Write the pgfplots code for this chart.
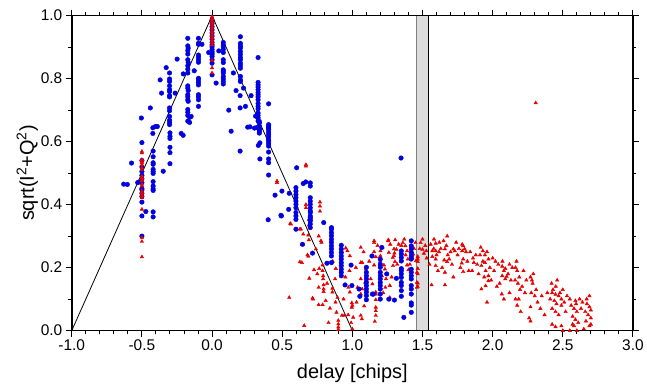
\documentclass[border=0pt]{standalone}
\usepackage{pgfplots}
\pgfplotsset{compat=1.18}
\usepackage{fontspec}
\setmainfont{Liberation Sans}
\definecolor{ptblue}{RGB}{0,0,225}
\definecolor{ptred}{RGB}{230,0,0}
\definecolor{bandgray}{RGB}{220,220,220}

\pgfplotstableread{
x y
-0.63 0.465
-0.604 0.464
-0.574 0.532
-0.52 0.472
-0.53 0.47
-0.504 0.675
-0.5 0.597
-0.5 0.505
-0.5 0.493
-0.5 0.482
-0.5 0.47
-0.5 0.451
-0.5 0.447
-0.5 0.436
-0.5 0.426
-0.5 0.408
-0.5 0.364
-0.5 0.30
-0.5 0.52
-0.5 0.54
-0.472 0.378
-0.44 0.707
-0.422 0.644
-0.403 0.648
-0.422 0.626
-0.42 0.570
-0.42 0.552
-0.42 0.533
-0.42 0.528
-0.42 0.512
-0.42 0.505
-0.42 0.499
-0.42 0.473
-0.42 0.459
-0.42 0.450
-0.42 0.445
-0.42 0.377
-0.42 0.361
-0.39 0.648
-0.37 0.796
-0.36 0.754
-0.348 0.506
-0.327 0.835
-0.303 0.818
-0.303 0.799
-0.303 0.791
-0.303 0.777
-0.303 0.765
-0.303 0.759
-0.303 0.746
-0.303 0.742
-0.303 0.707
-0.303 0.698
-0.303 0.680
-0.303 0.668
-0.303 0.661
-0.303 0.654
-0.30 0.628
-0.30 0.617
-0.30 0.610
-0.30 0.582
-0.30 0.565
-0.30 0.530
-0.263 0.754
-0.249 0.862
-0.22 0.626
-0.206 0.62
-0.205 0.815
-0.173 0.928
-0.173 0.904
-0.17 0.897
-0.173 0.889
-0.173 0.878
-0.173 0.860
-0.17 0.851
-0.173 0.841
-0.173 0.830
-0.173 0.818
-0.173 0.777
-0.173 0.770
-0.17 0.762
-0.173 0.749
-0.173 0.742
-0.173 0.733
-0.17 0.728
-0.173 0.702
-0.173 0.693
-0.173 0.683
-0.16 0.677
-0.173 0.665
-0.16 0.661
-0.149 0.68
-0.127 0.825
-0.097 0.928
-0.097 0.912
-0.097 0.909
-0.097 0.875
-0.097 0.868
-0.097 0.860
-0.097 0.852
-0.097 0.801
-0.097 0.796
-0.097 0.788
-0.097 0.780
-0.097 0.749
-0.097 0.742
-0.097 0.733
-0.097 0.712
-0.072 0.909
-0.024 0.883
0 0.986
0 0.975
0 0.965
0 0.955
0 0.945
0 0.935
0 0.925
0 0.915
0 0.907
0 0.901
0 0.893
0 0.886
0 0.881
0 0.876
0 0.870
0 0.860
0 0.849
0 0.812
0.029 0.786
0.048 0.888
0.08 0.915
0.08 0.907
0.08 0.902
0.08 0.893
0.08 0.883
0.08 0.860
0.08 0.851
0.08 0.828
0.08 0.823
0.08 0.818
0.08 0.807
0.08 0.799
0.08 0.791
0.08 0.783
0.119 0.700
0.136 0.633
0.152 0.818
0.171 0.762
0.2 0.746
0.2 0.707
0.2 0.570
0.202 0.933
0.202 0.912
0.202 0.904
0.202 0.897
0.202 0.886
0.202 0.877
0.202 0.867
0.202 0.860
0.202 0.849
0.202 0.841
0.202 0.833
0.202 0.807
0.202 0.796
0.202 0.791
0.224 0.770
0.238 0.712
0.254 0.646
0.27 0.647
0.278 0.746
0.302 0.643
0.31 0.681
0.32 0.645
0.328 0.867
0.328 0.788
0.328 0.780
0.328 0.773
0.328 0.765
0.328 0.756
0.328 0.749
0.328 0.742
0.328 0.733
0.328 0.721
0.328 0.712
0.328 0.704
0.328 0.691
0.328 0.683
0.328 0.675
0.328 0.665
0.337 0.664
0.337 0.659
0.337 0.649
0.337 0.643
0.337 0.638
0.337 0.633
0.337 0.627
0.33 0.588
0.341 0.596
0.341 0.545
0.4 0.352
0.403 0.72
0.403 0.654
0.403 0.647
0.403 0.651
0.403 0.643
0.403 0.638
0.403 0.630
0.403 0.622
0.403 0.615
0.403 0.606
0.403 0.601
0.403 0.594
0.403 0.586
0.403 0.567
0.403 0.545
0.403 0.533
0.403 0.494
0.449 0.43
0.491 0.366
0.494 0.364
0.498 0.443
0.546 0.385
0.55 0.436
0.603 0.517
0.598 0.454
0.598 0.443
0.598 0.432
0.598 0.422
0.598 0.411
0.598 0.401
0.598 0.390
0.598 0.375
0.598 0.364
0.598 0.353
0.598 0.322
0.645 0.274
0.65 0.467
0.668 0.472
0.70 0.469
0.70 0.459
0.70 0.422
0.70 0.411
0.70 0.401
0.70 0.390
0.70 0.380
0.70 0.375
0.70 0.364
0.70 0.359
0.70 0.353
0.70 0.348
0.70 0.338
0.70 0.327
0.716 0.246
0.796 0.343
0.851 0.327
0.851 0.322
0.851 0.311
0.851 0.301
0.851 0.290
0.851 0.280
0.851 0.269
0.851 0.259
0.851 0.248
0.851 0.237
0.851 0.216
0.819 0.214
0.921 0.271
0.921 0.259
0.921 0.248
0.921 0.237
0.921 0.227
0.921 0.216
0.921 0.206
0.921 0.195
0.921 0.185
0.921 0.174
0.948 0.145
0.991 0.208
0.997 0.143
1.048 0.132
1.053 0.109
1.10 0.201
1.10 0.185
1.10 0.174
1.10 0.164
1.10 0.153
1.10 0.143
1.10 0.132
1.10 0.122
1.10 0.111
1.10 0.098
1.14 0.237
1.143 0.116
1.15 0.116
1.199 0.227
1.199 0.211
1.199 0.201
1.199 0.185
1.199 0.174
1.199 0.164
1.199 0.153
1.199 0.143
1.199 0.132
1.199 0.116
1.199 0.100
1.21 0.264
1.245 0.18
1.26 0.10
1.30 0.097
1.314 0.166
1.349 0.253
1.349 0.243
1.349 0.232
1.349 0.221
1.349 0.197
1.349 0.190
1.349 0.180
1.349 0.169
1.349 0.153
1.349 0.143
1.349 0.127
1.349 0.109
1.347 0.548
1.367 0.042
1.42 0.285
1.42 0.269
1.42 0.259
1.42 0.248
1.42 0.237
1.42 0.227
1.42 0.195
1.42 0.185
1.42 0.174
1.42 0.164
1.42 0.143
1.42 0.132
1.42 0.116
1.42 0.088
1.42 0.081
1.42 0.058
}\bluedata

\pgfplotstableread{
x y
0.463 0.470
0.463 0.475
0.557 0.34
0.55 0.105
0.562 0.338
0.626 0.322
0.633 0.322
0.626 0.218
0.64 0.216
0.64 0.274
0.65 0.306
0.657 0.016
0.669 0.40
0.669 0.39
0.669 0.472
0.669 0.527
0.669 0.522
0.68 0.24
0.686 0.236
0.69 0.288
0.69 0.353
0.69 0.335
0.686 0.303
0.693 0.166
0.716 0.103
0.72 0.10
0.727 0.193
0.74 0.259
0.75 0.18
0.76 0.30
0.776 0.285
0.78 0.28
0.769 0.408
0.769 0.395
0.769 0.379
0.764 0.197
0.76 0.137
0.76 0.082
0.788 0.208
0.788 0.19
0.792 0.174
0.792 0.164
0.795 0.145
0.795 0.132
0.795 0.124
0.81 0.095
0.788 0.082
0.82 0.15
0.83 0.025
0.84 0.071
0.858 0.134
0.858 0.122
0.86 0.22
0.882 0.197
0.877 0.164
0.88 0.09
0.894 0.105
0.887 0.058
0.9 0.032
0.9 0.021
0.9 0.011
0.9 0.003
0.926 0.048
0.942 0.048
0.937 0.10
0.95 0.17
0.953 0.262
0.965 0.253
0.98 0.19
0.982 0.237
0.972 0.137
0.982 0.122
0.996 0.088
0.996 0.074
1.0 0.08
0.97 0.05
1.006 0.042
0.991 0.025
1.0 0.005
1.025 0.20
1.03 0.09
1.037 0.137
1.06 0.264
1.06 0.216
1.06 0.164
1.06 0.116
1.06 0.048
1.068 0.037
1.07 0.216
1.07 0.132
1.08 0.25
1.096 0.195
1.091 0.153
1.084 0.078
1.12 0.22
1.131 0.164
1.143 0.148
1.155 0.285
1.155 0.25
1.155 0.279
1.167 0.234
1.155 0.208
1.167 0.122
1.167 0.116
1.167 0.098
1.167 0.074
1.167 0.063
1.167 0.048
1.16 0.029
1.18 0.27
1.2 0.253
1.2 0.237
1.2 0.221
1.21 0.174
1.196 0.153
1.215 0.264
1.22 0.12
1.225 0.208
1.232 0.195
1.24 0.164
1.235 0.137
1.254 0.285
1.257 0.288
1.267 0.143
1.267 0.105
1.27 0.274
1.26 0.248
1.28 0.17
1.297 0.259
1.297 0.237
1.304 0.219
1.29 0.206
1.305 0.288
1.314 0.258
1.30 0.246
1.288 0.232
1.32 0.21
1.33 0.274
1.35 0.27
1.36 0.279
1.378 0.269
1.37 0.29
1.38 0.24
1.39 0.253
1.396 0.227
1.39 0.208
1.40 0.193
1.41 0.21
1.428 0.264
1.433 0.243
1.428 0.232
1.44 0.26
1.45 0.279
1.454 0.222
1.46 0.185
1.46 0.153
1.46 0.137
1.466 0.227
1.466 0.235
1.466 0.219
1.466 0.197
1.466 0.180
1.466 0.151
1.466 0.14
1.48 0.26
1.487 0.279
1.5 0.29
1.5 0.258
1.51 0.245
1.52 0.27
1.527 0.253
1.53 0.23
1.55 0.21
1.558 0.274
1.58 0.26
1.582 0.29
1.594 0.277
1.57 0.253
1.594 0.253
1.57 0.235
1.594 0.227
1.594 0.206
1.565 0.145
1.60 0.24
1.61 0.19
1.618 0.25
1.62 0.28
1.63 0.26
1.64 0.20
1.65 0.285
1.676 0.30
1.66 0.259
1.67 0.27
1.68 0.24
1.70 0.25
1.69 0.227
1.655 0.224
1.675 0.219
1.66 0.185
1.66 0.145
1.71 0.21
1.72 0.17
1.72 0.259
1.73 0.253
1.74 0.28
1.75 0.24
1.76 0.26
1.77 0.20
1.783 0.274
1.79 0.269
1.80 0.259
1.783 0.253
1.79 0.227
1.78 0.214
1.79 0.187
1.81 0.25
1.82 0.22
1.83 0.19
1.84 0.25
1.86 0.23
1.866 0.216
1.854 0.19
1.88 0.24
1.89 0.21
1.90 0.18
1.91 0.24
1.915 0.264
1.93 0.22
1.93 0.253
1.94 0.17
1.945 0.24
1.96 0.25
1.97 0.227
1.945 0.216
1.92 0.206
1.95 0.19
1.97 0.174
1.92 0.132
1.95 0.142
1.97 0.158
1.96 0.09
1.98 0.20
1.99 0.16
2.0 0.23
2.01 0.19
2.02 0.22
2.03 0.14
2.04 0.21
2.05 0.15
2.068 0.204
2.07 0.22
2.08 0.19
2.09 0.197
2.068 0.174
2.09 0.164
2.10 0.172
2.065 0.116
2.08 0.10
2.11 0.18
2.12 0.21
2.12 0.12
2.13 0.16
2.14 0.20
2.163 0.20
2.17 0.22
2.175 0.19
2.16 0.16
2.18 0.15
2.19 0.17
2.195 0.13
2.163 0.10
2.186 0.10
2.175 0.08
2.2 0.06
2.21 0.14
2.22 0.19
2.23 0.12
2.24 0.16
2.27 0.17
2.28 0.16
2.285 0.15
2.275 0.12
2.29 0.18
2.30 0.11
2.31 0.13
2.27 0.075
2.26 0.04
2.27 0.03
2.32 0.09
2.34 0.07
2.35 0.11
2.37 0.05
2.39 0.12
2.41 0.10
2.42 0.15
2.43 0.13
2.45 0.14
2.46 0.16
2.48 0.12
2.50 0.13
2.424 0.12
2.448 0.115
2.47 0.11
2.49 0.10
2.44 0.095
2.455 0.085
2.49 0.08
2.424 0.07
2.448 0.06
2.47 0.05
2.424 0.02
2.49 0.015
2.448 0.012
2.5 0.0
2.51 0.09
2.52 0.06
2.53 0.11
2.55 0.10
2.55 0.0
2.56 0.08
2.57 0.02
2.59 0.095
2.595 0.085
2.58 0.07
2.60 0.06
2.57 0.045
2.59 0.035
2.61 0.025
2.58 0.015
2.6 0.0
2.62 0.10
2.63 0.07
2.64 0.09
2.65 0.005
2.66 0.06
2.67 0.10
2.672 0.085
2.69 0.075
2.69 0.11
2.70 0.065
2.68 0.05
2.70 0.04
2.70 0.02
2.665 0.03
2.69 0.015
2.307 0.723
}\reddata

\pgfplotstableread{
x y
-0.5 0.569
-0.5 0.564
-0.5 0.543
-0.5 0.538
-0.5 0.533
-0.5 0.527
-0.5 0.517
-0.5 0.512
-0.5 0.49
-0.5 0.485
-0.5 0.48
-0.5 0.475
-0.5 0.464
-0.5 0.459
-0.5 0.443
-0.5 0.438
-0.5 0.433
-0.5 0.428
-0.5 0.422
-0.5 0.385
-0.5 0.296
-0.5 0.283
-0.5 0.234
0 0.997
0 0.99
0 0.985
0 0.978
0 0.972
0 0.965
0 0.958
0 0.95
0 0.944
0 0.936
0 0.93
0 0.922
0 0.915
0 0.907
0 0.858
0 0.834
0 0.818
}\redleft

\begin{document}
\begin{tikzpicture}
\begin{axis}[
  width=563pt, height=316pt, scale only axis,
  xmin=-1, xmax=3, ymin=0, ymax=1,
  axis line style={line width=1.6pt},
  tick align=outside,
  tick style={line width=1pt, black},
  major tick length=6pt, minor tick length=3.5pt,
  xtick={-1,-0.5,0,0.5,1,1.5,2,2.5,3},
  xticklabels={-1.0,-0.5,0.0,0.5,1.0,1.5,2.0,2.5,3.0},
  minor x tick num=4,
  ytick={0,0.2,0.4,0.6,0.8,1},
  yticklabels={0.0,0.2,0.4,0.6,0.8,1.0},
  minor y tick num=1,
  tick label style={font=\fontsize{15.5}{15.5}\selectfont},
  label style={font=\fontsize{20}{20}\selectfont},
  xlabel={delay [chips]},
  ylabel={sqrt(I\textsuperscript{2}+Q\textsuperscript{2})},
  xlabel style={yshift=-6pt},
  ylabel style={yshift=-4pt},
  axis on top,
]
\addplot[fill=bandgray, draw=none] coordinates {(1.46,0) (1.46,1) (1.54,1) (1.54,0)} \closedcycle;
\addplot[gray, line width=0.8pt] coordinates {(1.46,0) (1.46,1)};
\addplot[black, line width=1.2pt] coordinates {(1.54,0) (1.54,1)};
\addplot[only marks, mark=triangle*, mark size=2pt, color=ptred] table[x=x,y=y] {\reddata};
\addplot[only marks, mark=*, mark size=2.3pt, color=ptblue] table[x=x,y=y] {\bluedata};
\addplot[only marks, mark=triangle*, mark size=2pt, color=ptred] table[x=x,y=y] {\redleft};
\addplot[black, line width=0.8pt] coordinates {(-1,0) (0,1) (1,0)};
\end{axis}
\path ([xshift=-72pt,yshift=-58.3pt]current axis.south west) rectangle ([xshift=12pt,yshift=15.7pt]current axis.north east);
\end{tikzpicture}
\end{document}
